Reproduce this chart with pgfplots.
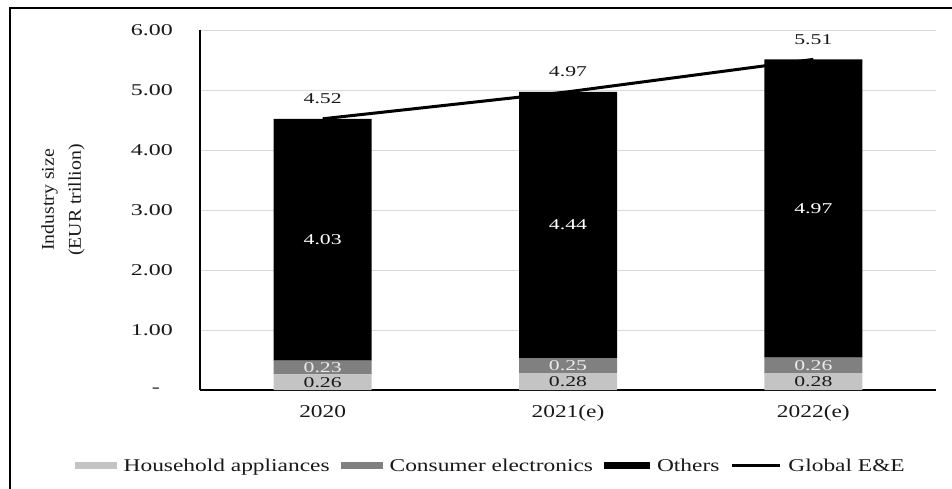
\documentclass[border=0pt]{standalone}
\usepackage{pgfplots}
\pgfplotsset{compat=1.18}
\usepackage{fontspec}
\setmainfont{Liberation Serif}
\newfontfamily\wideA{Liberation Serif}[FakeStretch=1.45]
\newfontfamily\wideB{Liberation Serif}[FakeStretch=1.3]
\newfontfamily\wideC{Liberation Serif}[FakeStretch=1.1]
\definecolor{hh}{HTML}{C4C4C4}
\definecolor{ce}{HTML}{808080}
\definecolor{gridc}{HTML}{D9D9D9}
\begin{document}
\begin{tikzpicture}
\useasboundingbox (0,0) rectangle (952pt,488pt);
\begin{scope}
\clip (0,0) rectangle (952pt,488pt);
\draw[line width=1.6pt] (10pt,-20pt) rectangle (980pt,480pt);
\end{scope}
\begin{axis}[
 at={(200pt,98pt)}, anchor=south west,
 scale only axis, width=736pt, height=360pt,
 xmin=-0.5, xmax=2.5, ymin=0, ymax=6,
 ybar stacked, bar width=98pt,
 xtick={0,1,2}, xticklabels={2020,2021(e),2022(e)},
 ytick={0,1,2,3,4,5,6},
 yticklabels={{-\hspace*{13pt}},1.00,2.00,3.00,4.00,5.00,6.00},
 major tick length=0pt,
 axis x line*=bottom, axis y line*=left,
 axis line style={-, line width=1.5pt, black},
 ymajorgrids, grid style={gridc, line width=0.8pt},
 yticklabel style={font=\wideA\fontsize{16.5}{18}\selectfont, inner sep=0pt, anchor=east, xshift=-27pt, text=black!90},
 xticklabel style={font=\wideB\fontsize{18}{20}\selectfont, inner sep=0pt, anchor=north, yshift=-15pt, text=black!90},
 legend style={at={(0.395,-0.211)}, anchor=center, draw=none, fill=none,
   font=\wideB\fontsize{18}{20}\selectfont, text=black!90, legend columns=4,
   /tikz/every odd column/.append style={column sep=5pt},
   /tikz/every even column/.append style={column sep=9pt}},
]
\addplot[fill=hh, draw=none, legend image code/.code={\fill[hh] (0pt,-3.5pt) rectangle (42pt,3.5pt);}]
  coordinates {(0,0.26) (1,0.28) (2,0.28)};
\addlegendentry{Household appliances}
\addplot[fill=ce, draw=none, legend image code/.code={\fill[ce] (0pt,-3.5pt) rectangle (42pt,3.5pt);}]
  coordinates {(0,0.23) (1,0.25) (2,0.26)};
\addlegendentry{Consumer electronics}
\addplot[fill=black, draw=none, legend image code/.code={\fill[black] (0pt,-3.5pt) rectangle (46pt,3.5pt);}]
  coordinates {(0,4.03) (1,4.44) (2,4.97)};
\addlegendentry{Others}
\addlegendimage{legend image code/.code={\draw[black, line width=3pt] (0pt,0pt) -- (48pt,0pt);}}
\addlegendentry{Global E\&E}
\end{axis}
\begin{axis}[
 at={(200pt,98pt)}, anchor=south west,
 scale only axis, width=736pt, height=360pt,
 xmin=-0.5, xmax=2.5, ymin=0, ymax=6,
 hide axis, clip=false,
]
\addplot[black, line width=3pt, nodes near coords, point meta=explicit symbolic,
  every node near coord/.style={font=\wideA\fontsize{15}{17}\selectfont, anchor=center, yshift=20pt, text=black!90}]
  coordinates {(0,4.52)[4.52] (1,4.97)[4.97] (2,5.51)[5.51]};
\addplot[draw=none, mark=none, nodes near coords, point meta=explicit symbolic,
  every node near coord/.style={font=\wideA\fontsize{15}{17}\selectfont, anchor=center, text=black!90}]
  coordinates {(0,0.13)[0.26] (1,0.14)[0.28] (2,0.14)[0.28]};
\addplot[draw=none, mark=none, nodes near coords, point meta=explicit symbolic,
  every node near coord/.style={font=\wideA\fontsize{15}{17}\selectfont, anchor=center, text=white!92!black}]
  coordinates {(0,0.375)[0.23] (1,0.405)[0.25] (2,0.41)[0.26]};
\addplot[draw=none, mark=none, nodes near coords, point meta=explicit symbolic,
  every node near coord/.style={font=\wideA\fontsize{15}{17}\selectfont, anchor=center, text=white}]
  coordinates {(0,2.505)[4.03] (1,2.75)[4.44] (2,3.025)[4.97]};
\end{axis}
\node[rotate=90, align=center, font=\wideC\fontsize{18}{27}\selectfont, text=black!90] at (63pt,288pt) {Industry size\\(EUR trillion)};
\end{tikzpicture}
\end{document}
